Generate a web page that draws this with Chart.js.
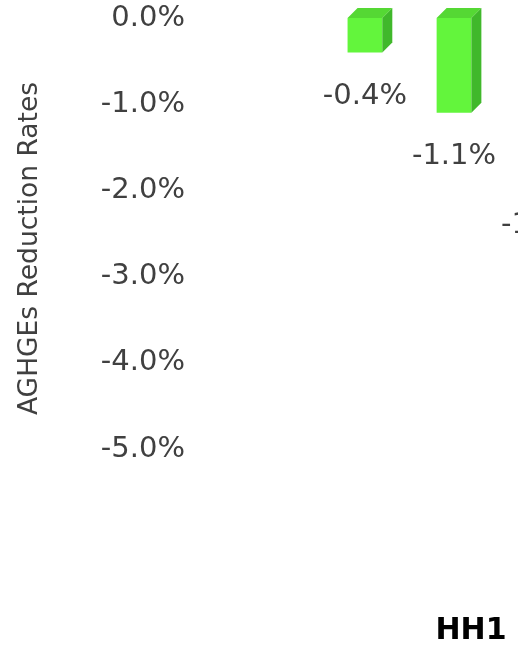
<!DOCTYPE html>
<html>
<head>
<meta charset="utf-8">
<title>AGHGEs Reduction Rates</title>
<script src="https://cdn.jsdelivr.net/npm/chart.js@4"></script>
<style>
  html, body { margin: 0; padding: 0; background: #fff; }
  #frame { width: 518px; height: 649px; overflow: hidden; position: relative; }
  #wrap { width: 740px; height: 649px; position: absolute; left: 0; top: 0; }
</style>
</head>
<body>
<div id="frame"><div id="wrap"><canvas id="chart"></canvas></div></div>
<script>
  'use strict';

  // categories / series
  const categories = ['HH1'];
  const seriesNames = ['Scenario 1', 'Scenario 2', 'Scenario 3'];
  const seriesValues = [[-0.4], [-1.1], [-1.9]]; // percent
  const yTicks = [0, -1, -2, -3, -4, -5];

  const FONT = 'DejaVu Sans';
  const TEXT = '#404040';
  const FRONT = '#63f53c';
  const SIDE = '#40b82b';
  const TOP = '#55d834';
  const DEPTH = 10;

  const fmt = v => v.toFixed(1) + '%';

  /* fake 3D: top + side faces for each column, then the value label below it */
  const columns3d = {
    id: 'columns3d',
    afterDatasetsDraw(chart) {
      const ctx = chart.ctx;
      ctx.save();
      chart.data.datasets.forEach((ds, i) => {
        chart.getDatasetMeta(i).data.forEach((bar, j) => {
          const p = bar.getProps(['x', 'y', 'base', 'width'], true);
          const l = p.x - p.width / 2, r = p.x + p.width / 2;
          const t = Math.min(p.y, p.base), b = Math.max(p.y, p.base);
          ctx.fillStyle = TOP;
          ctx.beginPath();
          ctx.moveTo(l, t); ctx.lineTo(l + DEPTH, t - DEPTH);
          ctx.lineTo(r + DEPTH, t - DEPTH); ctx.lineTo(r, t);
          ctx.closePath(); ctx.fill();
          ctx.fillStyle = SIDE;
          ctx.beginPath();
          ctx.moveTo(r, t); ctx.lineTo(r + DEPTH, t - DEPTH);
          ctx.lineTo(r + DEPTH, b - DEPTH); ctx.lineTo(r, b);
          ctx.closePath(); ctx.fill();

          ctx.fillStyle = TEXT;
          ctx.font = '29px "' + FONT + '"';
          ctx.textAlign = 'center';
          ctx.textBaseline = 'middle';
          ctx.fillText(fmt(ds.data[j]), p.x, b + 44);
        });
      });
      ctx.restore();
    }
  };

  /* rotated y axis title */
  const yTitle = {
    id: 'yTitle',
    afterDraw(chart) {
      const ctx = chart.ctx;
      const a = chart.chartArea;
      ctx.save();
      ctx.translate(30, (a.top + a.bottom) / 2 + 15);
      ctx.rotate(-Math.PI / 2);
      ctx.fillStyle = TEXT;
      ctx.font = '26.5px "' + FONT + '"';
      ctx.textAlign = 'center';
      ctx.textBaseline = 'middle';
      ctx.fillText('AGHGEs Reduction Rates', 0, 0);
      ctx.restore();
    }
  };

  new Chart(document.getElementById('chart'), {
    type: 'bar',
    data: {
      labels: categories,
      datasets: seriesNames.map((name, i) => ({
        label: name,
        data: seriesValues[i],
        backgroundColor: FRONT,
        borderWidth: 0,
        categoryPercentage: 0.526,
        barPercentage: 0.39
      }))
    },
    options: {
      responsive: true,
      maintainAspectRatio: false,
      animation: false,
      layout: { padding: { top: 18, left: 0, right: 32, bottom: 0 } },
      plugins: {
        legend: { display: false },
        tooltip: { enabled: false }
      },
      scales: {
        x: {
          grid: { display: false, drawTicks: false },
          border: { display: false },
          ticks: {
            color: '#000',
            font: { family: FONT, size: 30, weight: 'bold' },
            labelOffset: 17,
            padding: 164
          },
          afterFit(scale) { scale.height = 200; }
        },
        y: {
          min: -5,
          max: 0,
          grid: { display: false, drawTicks: false },
          border: { display: false },
          afterBuildTicks(scale) { scale.ticks = yTicks.map(v => ({ value: v })); },
          ticks: {
            color: TEXT,
            font: { family: FONT, size: 29 },
            padding: 15,
            callback: v => fmt(v)
          },
          afterFit(scale) {
            scale.width = 200;
            scale.paddingTop = 0;
            scale.paddingBottom = 0;
          }
        }
      }
    },
    plugins: [columns3d, yTitle]
  });
</script>
</body>
</html>
